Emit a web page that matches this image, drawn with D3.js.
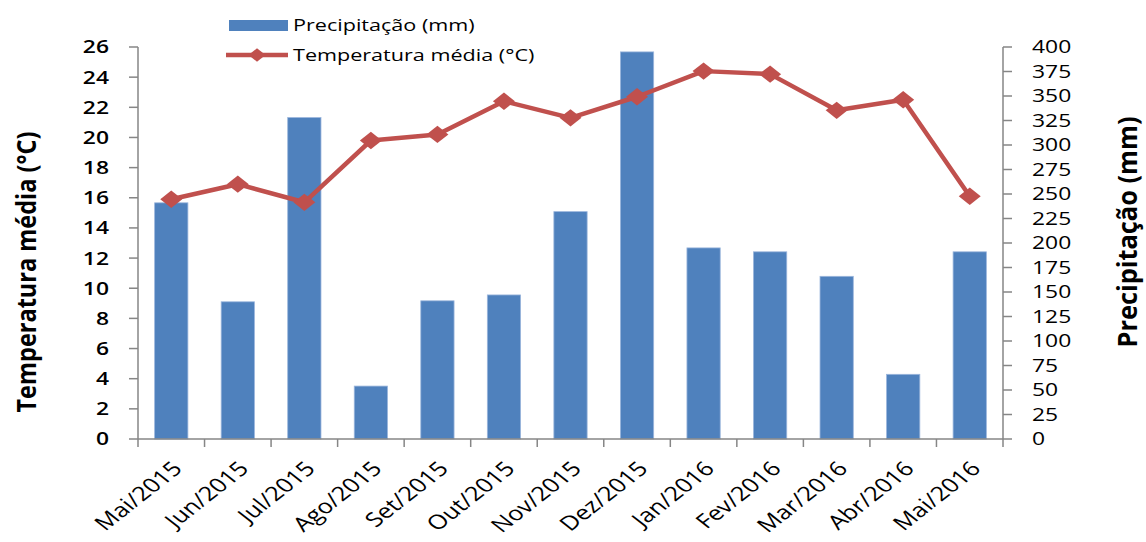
<!DOCTYPE html>
<html>
<head>
<meta charset="utf-8">
<script src="https://cdn.jsdelivr.net/npm/d3@7"></script>
<style>
  body { margin: 0; background: #fff; }
  svg { display: block; }
  text { font-family: "Open Sans", "DejaVu Sans", sans-serif; fill: #000; }
</style>
</head>
<body>
<svg id="chart" width="1146" height="542"></svg>
<script>
const categories = ["Mai/2015","Jun/2015","Jul/2015","Ago/2015","Set/2015","Out/2015","Nov/2015","Dez/2015","Jan/2016","Fev/2016","Mar/2016","Abr/2016","Mai/2016"];
const precipitation = [241, 140, 328, 54, 141, 147, 232, 395, 195, 191, 166, 66, 191];
const temperature = [15.9, 16.9, 15.7, 19.8, 20.2, 22.4, 21.3, 22.7, 24.4, 24.2, 21.8, 22.5, 16.1];
const tempTicks = d3.range(0, 27, 2);
const precipTicks = d3.range(0, 401, 25);
const seriesNames = ["Precipitação (mm)", "Temperatura média (°C)"];
const axisTitles = ["Temperatura média (°C)", "Precipitação (mm)"];

(function () {
const SX = 1.27; // horizontal stretch of the reference image
const barColor = "#4F81BD", lineColor = "#C0504D", axisColor = "#868686";
const pl = 138, pr = 1003, pt = 47, pb = 439;

const svg = d3.select("#chart");
const x = d3.scaleBand().domain(categories).range([pl, pr]).paddingInner(0.5).paddingOuter(0.25);
const xb = d3.scaleBand().domain(categories).range([pl, pr]);
const yT = d3.scaleLinear().domain([0, 26]).range([pb, pt]);
const yP = d3.scaleLinear().domain([0, 400]).range([pb, pt]);

// bars
svg.append("g").selectAll("rect").data(precipitation).join("rect")
  .attr("x", (d, i) => x(categories[i]))
  .attr("width", x.bandwidth())
  .attr("y", d => yP(d))
  .attr("height", d => yP(0) - yP(d))
  .attr("fill", barColor)
  .attr("stroke", "#9bb6dc").attr("stroke-width", 0.8);

// axes
const gl = svg.append("g");
gl.append("line").attr("x1", pl).attr("x2", pl).attr("y1", pt).attr("y2", pb).attr("stroke", axisColor).attr("stroke-width", 1.5);
gl.selectAll("line.t").data(tempTicks).join("line").attr("class", "t")
  .attr("x1", pl - 9).attr("x2", pl).attr("y1", d => yT(d)).attr("y2", d => yT(d))
  .attr("stroke", axisColor).attr("stroke-width", 1.5);
gl.selectAll("text").data(tempTicks).join("text")
  .attr("transform", d => `translate(${pl - 29},${yT(d)}) scale(${SX},1)`)
  .attr("text-anchor", "end").attr("dy", "0.36em")
  .style("font-size", "18px").style("font-weight", "600")
  .text(d => d);

const gr = svg.append("g");
gr.append("line").attr("x1", pr).attr("x2", pr).attr("y1", pt).attr("y2", pb).attr("stroke", axisColor).attr("stroke-width", 1.5);
gr.selectAll("line.t").data(precipTicks).join("line").attr("class", "t")
  .attr("x1", pr).attr("x2", pr + 9).attr("y1", d => yP(d)).attr("y2", d => yP(d))
  .attr("stroke", axisColor).attr("stroke-width", 1.5);
gr.selectAll("text").data(precipTicks).join("text")
  .attr("transform", d => `translate(${pr + 29},${yP(d)}) scale(${SX},1)`)
  .attr("text-anchor", "start").attr("dy", "0.36em")
  .style("font-size", "18px")
  .text(d => d);

const gx = svg.append("g");
gx.append("line").attr("x1", pl).attr("x2", pr).attr("y1", pb).attr("y2", pb).attr("stroke", axisColor).attr("stroke-width", 1.5);
gx.selectAll("line.t").data(categories.concat(["end"])).join("line").attr("class", "t")
  .attr("x1", (d, i) => i < categories.length ? xb(d) : pr)
  .attr("x2", (d, i) => i < categories.length ? xb(d) : pr)
  .attr("y1", pb).attr("y2", pb + 8)
  .attr("stroke", axisColor).attr("stroke-width", 1.5);
gx.selectAll("text").data(categories).join("text")
  .attr("transform", d => `translate(${xb(d) + xb.bandwidth() / 2 + 6},${pb + 26}) scale(${SX},1) rotate(-45)`)
  .attr("text-anchor", "end").attr("dy", "0.35em")
  .style("font-size", "20px")
  .text(d => d);

// line
const line = d3.line().x((d, i) => xb(categories[i]) + xb.bandwidth() / 2).y(d => yT(d));
svg.append("path").datum(temperature).attr("d", line)
  .attr("fill", "none").attr("stroke", lineColor).attr("stroke-width", 4.5).attr("stroke-linejoin", "round");
const diamond = d3.symbol(d3.symbolSquare, 150);
svg.append("g").selectAll("path").data(temperature).join("path")
  .attr("d", diamond)
  .attr("transform", (d, i) => `translate(${xb(categories[i]) + xb.bandwidth() / 2},${yT(d)}) scale(${SX},1) rotate(45)`)
  .attr("fill", lineColor);

// axis titles
svg.append("text")
  .attr("transform", `translate(36,272) scale(${SX},1) rotate(-90)`)
  .attr("text-anchor", "middle")
  .attr("textLength", 281).attr("lengthAdjust", "spacingAndGlyphs")
  .style("font-size", "21px").style("font-weight", "bold")
  .text(axisTitles[0]);
svg.append("text")
  .attr("transform", `translate(1137,232) scale(${SX},1) rotate(-90)`)
  .attr("text-anchor", "middle")
  .attr("textLength", 231).attr("lengthAdjust", "spacingAndGlyphs")
  .style("font-size", "21px").style("font-weight", "bold")
  .text(axisTitles[1]);

// legend
const lg = svg.append("g");
lg.append("rect").attr("x", 229).attr("y", 20).attr("width", 59).attr("height", 11).attr("fill", barColor);
lg.append("text").attr("transform", `translate(293,31) scale(${SX},1)`)
  .style("font-size", "17px").text(seriesNames[0]);
lg.append("line").attr("x1", 226).attr("x2", 288).attr("y1", 55).attr("y2", 55)
  .attr("stroke", lineColor).attr("stroke-width", 4.5);
lg.append("path").attr("d", d3.symbol(d3.symbolSquare, 90))
  .attr("transform", `translate(257,55) scale(${SX},1) rotate(45)`).attr("fill", lineColor);
lg.append("text").attr("transform", `translate(293,61) scale(${SX},1)`)
  .style("font-size", "17px").text(seriesNames[1]);
})();
</script>
</body>
</html>
